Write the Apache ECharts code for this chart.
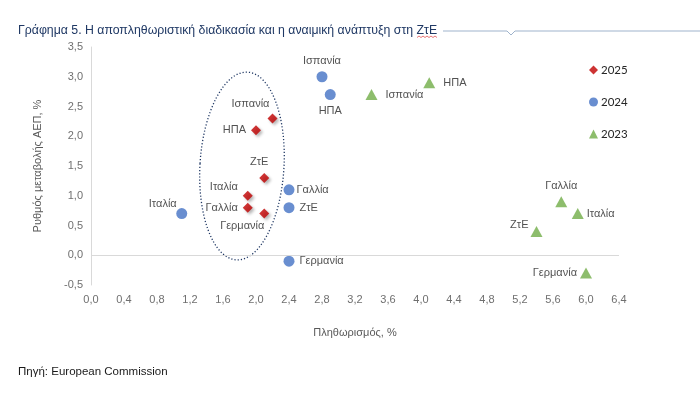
<!DOCTYPE html>
<html>
<head>
<meta charset="utf-8">
<script src="https://cdn.jsdelivr.net/npm/echarts@6/dist/echarts.min.js"></script>
<style>
  html,body{margin:0;padding:0;background:#fff;}
  #chart{width:700px;height:399px;}
</style>
</head>
<body>
<div id="chart"></div>
<script>
// σειρές ανά έτος: χώρες, πληθωρισμός (x), ΑΕΠ (y)
const years = ['2025', '2024', '2023'];

const countries2025 = ['Ισπανία', 'ΗΠΑ', 'ΖτΕ', 'Ιταλία', 'Γαλλία', 'Γερμανία'];
const infl2025 = [2.2, 2.0, 2.1, 1.9, 1.9, 2.1];
const gdp2025 = [2.3, 2.1, 1.3, 1.0, 0.8, 0.7];

const countries2024 = ['Ιταλία', 'Ισπανία', 'ΗΠΑ', 'Γαλλία', 'ΖτΕ', 'Γερμανία'];
const infl2024 = [1.1, 2.8, 2.9, 2.4, 2.4, 2.4];
const gdp2024 = [0.7, 3.0, 2.7, 1.1, 0.8, -0.1];

const countries2023 = ['Ισπανία', 'ΗΠΑ', 'Γαλλία', 'Ιταλία', 'ΖτΕ', 'Γερμανία'];
const infl2023 = [3.4, 4.1, 5.7, 5.9, 5.4, 6.0];
const gdp2023 = [2.7, 2.9, 0.9, 0.7, 0.4, -0.3];

// θέσεις ετικετών (μόνο στυλ)
const pos2025 = {
  'Ισπανία': {position: 'top', offset: [-22, 1]},
  'ΗΠΑ': {position: 'left'},
  'ΖτΕ': {position: 'top', offset: [-5, 0]},
  'Ιταλία': {position: 'left', offset: [0, -9]},
  'Γαλλία': {position: 'left'},
  'Γερμανία': {position: 'bottom', offset: [-22, -3]}
};
const pos2024 = {
  'Ιταλία': {position: 'top', offset: [-19, 6]},
  'Ισπανία': {position: 'top'},
  'ΗΠΑ': {position: 'bottom'},
  'Γαλλία': {position: 'right', distance: 2},
  'ΖτΕ': {position: 'right', distance: 5},
  'Γερμανία': {position: 'right', distance: 5}
};
const pos2023 = {
  'Ισπανία': {position: 'right', distance: 8},
  'ΗΠΑ': {position: 'right', distance: 8},
  'Γαλλία': {position: 'top'},
  'Ιταλία': {position: 'right', distance: 3},
  'ΖτΕ': {position: 'left', offset: [0, -6], distance: 2},
  'Γερμανία': {position: 'left', distance: 3}
};

function build(names, xs, ys, pos){
  return names.map((n, i) => ({
    name: n,
    value: [xs[i], ys[i]],
    label: Object.assign({show: true, formatter: n}, pos[n])
  }));
}

const fmt = v => v.toFixed(1).replace('.', ',');

const chart = echarts.init(document.getElementById('chart'));

const labelStyle = {color: '#262626', fontSize: 11, fontFamily: 'Liberation Sans, Arial, sans-serif'};
const axisFont = '"Liberation Sans Narrow", "Liberation Sans", sans-serif';

const option = {
  backgroundColor: '#fff',
  animation: false,
  grid: {left: 91, right: 81, top: 47, bottom: 114},
  legend: {
    data: [
      {name: '2025', icon: 'diamond', itemStyle: {color: '#C00000'}},
      {name: '2024', icon: 'circle'},
      {name: '2023', icon: 'triangle'}
    ],
    orient: 'vertical',
    left: 584,
    top: 59,
    itemGap: 20,
    itemWidth: 9,
    itemHeight: 9,
    textStyle: {color: '#262626', fontSize: 11.5, fontFamily: 'Lato, "Open Sans", sans-serif', padding: [0, 0, 0, -2]}
  },
  xAxis: {
    type: 'value',
    min: 0, max: 6.4, interval: 0.4,
    name: 'Πληθωρισμός, %',
    nameLocation: 'middle',
    nameGap: 42,
    nameTextStyle: {color: '#595959', fontSize: 11, fontFamily: axisFont},
    axisLine: {show: false},
    axisTick: {show: false},
    splitLine: {show: false},
    axisLabel: {color: '#6F6F6F', fontSize: 11, margin: 9, fontFamily: axisFont, formatter: fmt}
  },
  yAxis: {
    type: 'value',
    min: -0.5, max: 3.5, interval: 0.5,
    name: 'Ρυθμός μεταβολής ΑΕΠ, %',
    nameLocation: 'middle',
    nameGap: 48,
    nameTextStyle: {color: '#595959', fontSize: 11, fontFamily: axisFont},
    axisLine: {show: true, lineStyle: {color: '#D9D9D9', width: 1}},
    axisTick: {show: false},
    splitLine: {show: false},
    axisLabel: {color: '#6F6F6F', fontSize: 11, margin: 8, fontFamily: axisFont, formatter: fmt}
  },
  series: [
    {
      name: '2025',
      type: 'scatter',
      symbol: 'diamond',
      symbolSize: 10,
      itemStyle: {color: '#C00000', shadowBlur: 3, shadowOffsetX: 2, shadowOffsetY: 2, shadowColor: 'rgba(0,0,0,0.35)'},
      label: labelStyle,
      data: build(countries2025, infl2025, gdp2025, pos2025),
      z: 4
    },
    {
      name: '2024',
      type: 'scatter',
      symbol: 'circle',
      symbolSize: 11,
      itemStyle: {color: '#4472C4'},
      label: labelStyle,
      data: build(countries2024, infl2024, gdp2024, pos2024),
      markLine: {
        silent: true,
        symbol: 'none',
        label: {show: false},
        lineStyle: {color: '#D9D9D9', width: 1.2, type: 'solid'},
        data: [{yAxis: 0}]
      },
      z: 3
    },
    {
      name: '2023',
      type: 'scatter',
      symbol: 'triangle',
      symbolSize: [12, 11],
      itemStyle: {color: '#70AD47'},
      label: labelStyle,
      data: build(countries2023, infl2023, gdp2023, pos2023),
      z: 3
    }
  ]
};

chart.setOption(option);

// διακοσμητικά: τίτλος, γραμμή, έλλειψη, πηγή
const ctr = chart.convertToPixel({gridIndex: 0}, [1.83, 1.5]);
const ctrTop = chart.convertToPixel({gridIndex: 0}, [1.83, 3.08]);
chart.setOption({
  graphic: [
    {
      type: 'text', left: 18, top: 25,
      style: {text: 'Γράφημα 5. Η αποπληθωριστική διαδικασία και η αναιμική ανάπτυξη στη ΖτΕ',
        fill: '#1F3864', font: '12.3px "Liberation Sans", Arial, sans-serif'}
    },
    {
      type: 'polyline',
      shape: {points: [[443, 31], [507, 31], [511, 35], [515, 31], [700, 31]]},
      style: {stroke: '#9FB3CC', lineWidth: 1, fill: null}
    },
    {
      type: 'polyline',
      shape: {points: [[417, 37.5], [419, 36], [421, 37.5], [423, 36], [425, 37.5], [427, 36], [429, 37.5], [431, 36], [433, 37.5], [435, 36], [437, 37.5]]},
      style: {stroke: '#E05050', lineWidth: 0.8, fill: null}
    },
    {
      type: 'ellipse',
      shape: {cx: 0, cy: 0, rx: 42, ry: ctr[1] - ctrTop[1]},
      x: ctr[0], y: ctr[1],
      rotation: -0.06,
      style: {stroke: '#203864', lineWidth: 1.3, lineDash: [1.2, 2], fill: null},
      z: 2
    },
    {
      type: 'text', left: 18, top: 366,
      style: {text: 'Πηγή: European Commission', fill: '#1a1a1a', font: '11.5px "Liberation Sans Narrow", "Liberation Sans", sans-serif'}
    }
  ]
});
</script>
</body>
</html>
